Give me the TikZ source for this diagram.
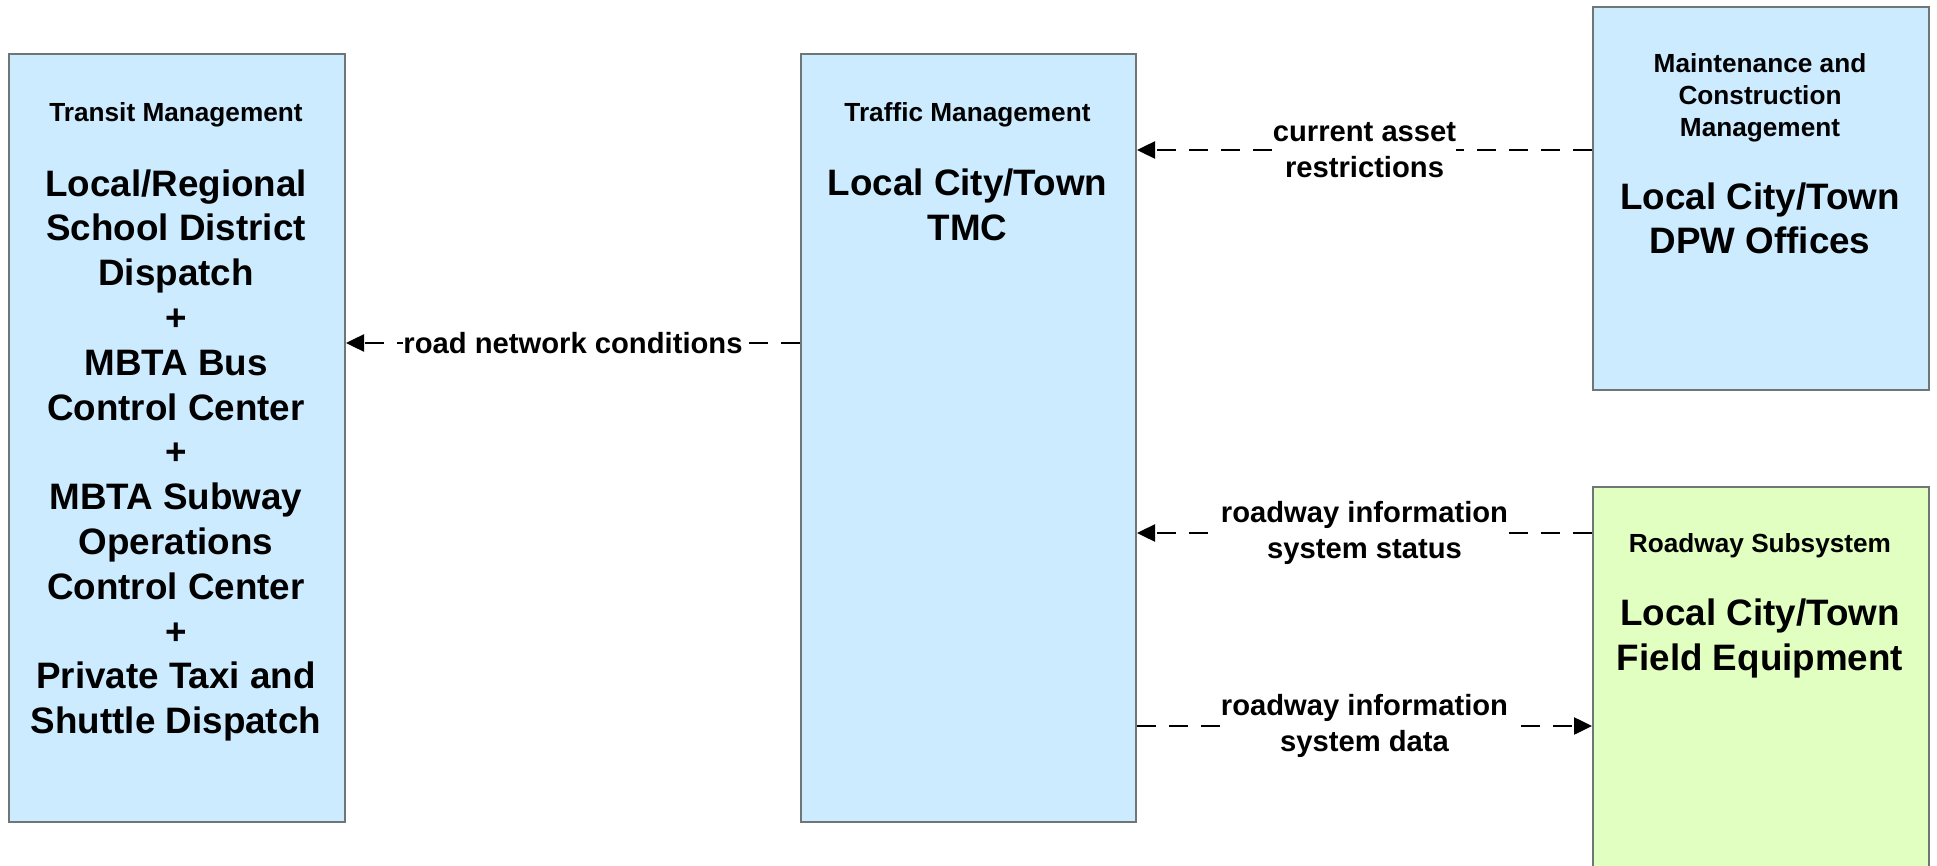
\documentclass[tikz,border=0pt]{standalone}
\usepackage{fontspec}
\setmainfont{Liberation Sans}
\usetikzlibrary{arrows.meta}
\definecolor{boxblue}{RGB}{204,235,255}
\definecolor{boxgreen}{RGB}{224,255,192}
\definecolor{boxline}{RGB}{110,118,118}
\begin{document}
\begin{tikzpicture}[x=1pt,y=-1pt,
 box/.style={draw=boxline,line width=2pt,rectangle,anchor=north west,inner sep=0pt},
 cat/.style={font=\fontsize{26.2}{32}\selectfont\bfseries,align=center,inner sep=0pt,anchor=base},
 sysname/.style={font=\fontsize{36.8}{44.8}\selectfont\bfseries,align=center,inner sep=0pt,anchor=base},
 flow/.style={line width=2.5pt,dash pattern=on 19pt off 13pt,-{Triangle[length=18pt,width=17pt]}},
 lbl/.style={font=\fontsize{29.2}{36}\selectfont\bfseries,align=center,inner sep=0pt,fill=white}]
\fill[white] (0,0) rectangle (1937,866);
\useasboundingbox (0,0) rectangle (1937,866);

\node[box,fill=boxblue,minimum width=336pt,minimum height=768pt] (transit) at (8,53) {};
\node[box,fill=boxblue,minimum width=335pt,minimum height=768pt] (tmc) at (800,53) {};
\node[box,fill=boxblue,minimum width=336pt,minimum height=383pt] (mcm) at (1592,6) {};
\node[box,fill=boxgreen,minimum width=336pt,minimum height=420pt] (rs) at (1592,486) {};

% anchor=base sits on the baseline of the last line
\node[cat] (transitcat) at (176,122) {Transit Management};
\node[sysname] (transitname) at (176,733.6) {Local/Regional\\School District\\Dispatch\\+\\MBTA Bus\\Control Center\\+\\MBTA Subway\\Operations\\Control Center\\+\\Private Taxi and\\Shuttle Dispatch};

\node[cat] (tmccat) at (967.5,122) {Traffic Management};
\node[sysname] (tmcname) at (967.5,240.8) {Local City/Town\\TMC};

\node[cat] (mcmcat) at (1760,136.5) {Maintenance and\\Construction\\Management};
\node[sysname] (mcmname) at (1760,254) {Local City/Town\\DPW Offices};

\node[cat] (rscat) at (1760,552) {Roadway Subsystem};
\node[sysname] (rsname) at (1760,670) {Local City/Town\\Field Equipment};

\draw[flow] (tmc.west |- 0,343) -- node[lbl] {road network conditions} (transit.east |- 0,343);
\draw[flow] (mcm.west |- 0,150) -- node[lbl] {current asset\\restrictions} (tmc.east |- 0,150);
\draw[flow] (rs.west |- 0,533) -- node[lbl] {roadway information\\system status} (tmc.east |- 0,533);
\draw[flow] (tmc.east |- 0,726) -- node[lbl] {roadway information\\system data} (rs.west |- 0,726);
\end{tikzpicture}
\end{document}
